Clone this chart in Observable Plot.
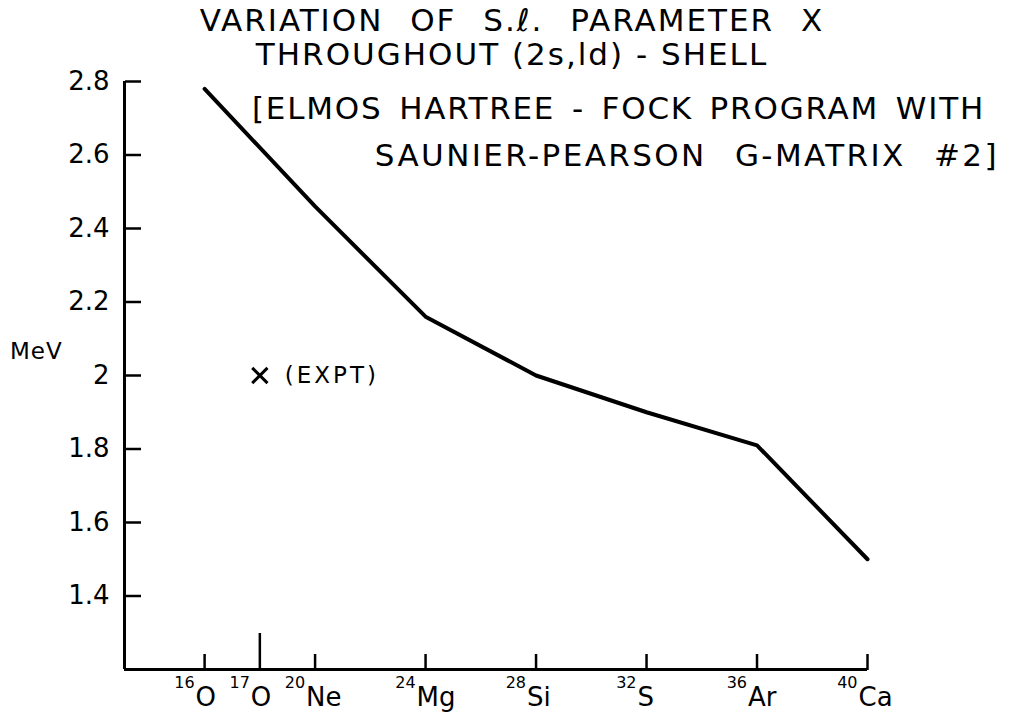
<!DOCTYPE html>
<html>
<head>
<meta charset="utf-8">
<script src="https://cdn.jsdelivr.net/npm/d3@7"></script>
<script src="https://cdn.jsdelivr.net/npm/@observablehq/plot@0.6"></script>
<style>
  html, body { margin: 0; padding: 0; background: #fff; }
  #wrap { position: relative; width: 1012px; height: 714px; overflow: hidden; background: #fff; }
  #wrap svg { position: absolute; left: 0; top: 0; }
  #wrap svg g[aria-label="text"] text { letter-spacing: 3px; }
  .t { position: absolute; font-family: "DejaVu Sans", sans-serif; color: #000; white-space: pre; line-height: 1; }
  .title { font-size: 31px; letter-spacing: 2px; left: 0; width: 1024px; text-align: center; }
  .note { font-size: 31px; letter-spacing: 1.8px; text-align: right; }
</style>
</head>
<body>
<div id="wrap">
  <div class="t title" id="t1" style="top:5px; word-spacing:15px;"></div>
  <div class="t title" id="t2" style="top:39px;"></div>
  <div class="t note" id="n1" style="top:93px; right:27px; word-spacing:5px;"></div>
  <div class="t note" id="n2" style="top:140px; right:13px; letter-spacing:2.4px; word-spacing:16px;"></div>
  <div class="t" id="ylab" style="top:340px; left:10px; font-size:23px; letter-spacing:1px;"></div>
</div>
<script>
// ---- data ----
const titleLines = ["VARIATION OF S.\u2113. PARAMETER X", "THROUGHOUT (2s,ld) - SHELL"];
const noteLines = ["[ELMOS HARTREE - FOCK PROGRAM WITH", "SAUNIER-PEARSON G-MATRIX #2]"];
const yAxisLabel = "MeV";

// nuclei on the x axis (mass number A and element symbol)
const massNumbers = [16, 17, 20, 24, 28, 32, 36, 40];
const elements = ["O", "O", "Ne", "Mg", "Si", "S", "Ar", "Ca"];
const longTickA = [17];

// calculated spin-orbit parameter X (MeV) along the shell
const calcA = [16, 20, 24, 28, 32, 36, 40];
const calcX = [2.78, 2.46, 2.16, 2.00, 1.90, 1.81, 1.50];

// experimental point
const exptA = [17];
const exptX = [2.0];
const exptLabel = ["(EXPT)"];

// y ticks
const yTicks = [1.4, 1.6, 1.8, 2.0, 2.2, 2.4, 2.6, 2.8];
const yTickLabels = ["1.4", "1.6", "1.8", "2", "2.2", "2.4", "2.6", "2.8"];

const xDomain = [13.1, 40];
const yDomain = [1.2, 2.8];

// ---- build ----
// the original axis spreads 16O, 17O, 20Ne evenly (17O sits midway between 16O and 20Ne)
const stretch = d3.scaleLinear().domain([16, 17, 20]).range([16, 18, 20]);
const axisPos = (a) => (a > 16 && a < 20 ? stretch(a) : a);

const calc = calcA.map((a, i) => ({A: a, X: calcX[i]}));
const expt = exptA.map((a, i) => ({A: a, X: exptX[i], label: exptLabel[i]}));
const allTickPos = massNumbers.map(axisPos);
const shortTickPos = massNumbers.filter(a => !longTickA.includes(a)).map(axisPos);
const longTickPos = longTickA.map(axisPos);
const idx = (p) => allTickPos.findIndex(q => Math.abs(q - p) < 1e-9);

const chart = Plot.plot({
  width: 1012,
  height: 714,
  marginLeft: 124,
  marginRight: 145,
  marginTop: 81,
  marginBottom: 45,
  x: {domain: xDomain},
  y: {domain: yDomain},
  style: {fontFamily: "DejaVu Sans, sans-serif", fontSize: "26px", color: "black", background: "white"},
  marks: [
    Plot.ruleX([xDomain[0]], {stroke: "black", strokeWidth: 3}),
    Plot.ruleY([yDomain[0]], {stroke: "black", strokeWidth: 3}),
    // y tick labels
    Plot.axisY({ticks: yTicks, tickSize: 0, tickPadding: 15, tickFormat: (d) => yTickLabels[yTicks.indexOf(d)], fontSize: 26, label: null}),
    // inward y ticks
    Plot.axisY({anchor: "right", frameAnchor: "left", ticks: yTicks, tickSize: 16, strokeWidth: 2.5, fill: "none", label: null}),
    // upward x ticks
    Plot.axisX({anchor: "top", frameAnchor: "bottom", ticks: shortTickPos, tickSize: 16, strokeWidth: 2.5, fill: "none", label: null}),
    Plot.axisX({anchor: "top", frameAnchor: "bottom", ticks: longTickPos, tickSize: 37, strokeWidth: 2.5, fill: "none", label: null}),
    // x tick labels: mass number (raised) + element symbol
    Plot.axisX({ticks: allTickPos, tickSize: 0, tickPadding: 7, tickFormat: (d) => String(massNumbers[idx(d)]), textAnchor: "end", dx: -10, fontSize: 16, label: null}),
    Plot.axisX({ticks: allTickPos, tickSize: 0, tickPadding: 18, tickFormat: (d) => elements[idx(d)], textAnchor: "start", dx: -9, fontSize: 26, label: null}),
    // calculated curve
    Plot.line(calc, {x: (d) => axisPos(d.A), y: "X", stroke: "black", strokeWidth: 4, strokeLinejoin: "round", strokeLinecap: "round"}),
    // experimental point
    Plot.dot(expt, {x: (d) => axisPos(d.A), y: "X", symbol: "times", r: 7, stroke: "black", strokeWidth: 3}),
    Plot.text(expt, {x: (d) => axisPos(d.A), y: "X", text: "label", textAnchor: "start", dx: 25, fontSize: 23})
  ]
});

const wrap = document.getElementById("wrap");
wrap.insertBefore(chart, wrap.firstChild);
document.getElementById("t1").textContent = titleLines[0];
document.getElementById("t2").textContent = titleLines[1];
document.getElementById("n1").textContent = noteLines[0];
document.getElementById("n2").textContent = noteLines[1];
document.getElementById("ylab").textContent = yAxisLabel;
</script>
</body>
</html>
